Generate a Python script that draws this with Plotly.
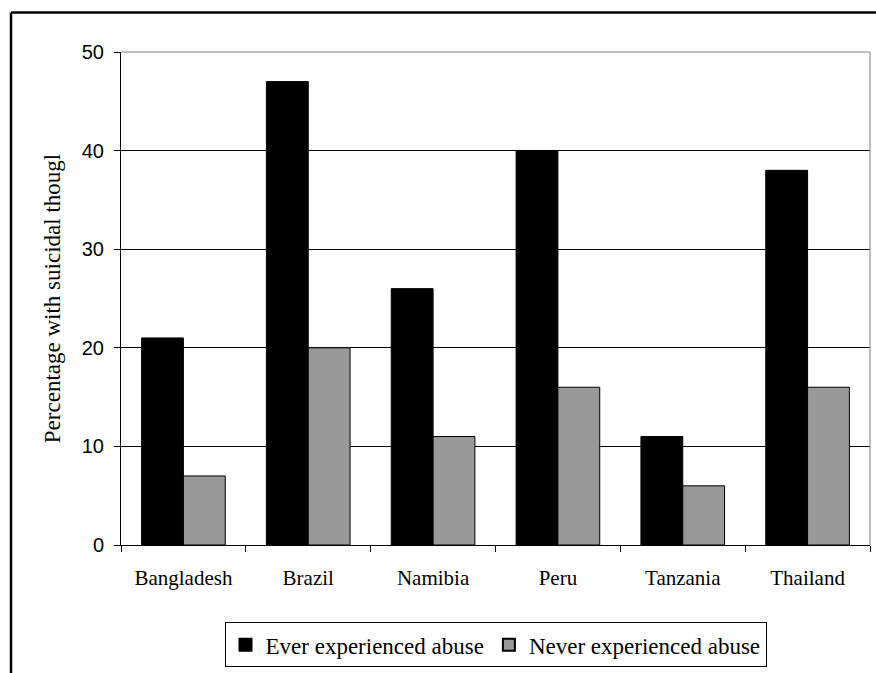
import plotly.graph_objects as go

countries = ["Bangladesh", "Brazil", "Namibia", "Peru", "Tanzania", "Thailand"]
ever_abuse = [21, 47, 26, 40, 11, 38]
never_abuse = [7, 20, 11, 16, 6, 16]
y_ticks = [0, 10, 20, 30, 40, 50]

fig = go.Figure()
fig.add_trace(go.Bar(x=countries, y=ever_abuse, name="Ever experienced abuse",
                     marker=dict(color="#000000", line=dict(color="#000000", width=1))))
fig.add_trace(go.Bar(x=countries, y=never_abuse, name="Never experienced abuse",
                     marker=dict(color="#999999", line=dict(color="#000000", width=1))))

W, H = 876, 673
L, R, T, B = 121, 6, 52, 123
pw, ph = W - L - R, H - T - B

def px_x(p):
    return (p - L) / pw

def px_y(p):
    return (H - B - p) / ph

SERIF = "Liberation Serif, Times New Roman, serif"
SANS = "Liberation Sans, Arial, sans-serif"

fig.update_layout(
    width=W, height=H,
    margin=dict(l=L, r=R, t=T, b=B),
    paper_bgcolor="white", plot_bgcolor="white",
    font=dict(family=SERIF, color="black"),
    barmode="group", bargap=0.33, bargroupgap=0,
    showlegend=True,
    legend=dict(orientation="h", x=0.5, xanchor="center", y=px_y(628), yanchor="top",
                font=dict(family=SERIF, size=23, color="black"),
                bordercolor="black", borderwidth=1, bgcolor="white",
                itemsizing="constant", traceorder="normal"),
    xaxis=dict(type="category", showline=True, linecolor="black", linewidth=1,
               ticks="outside", ticklen=6, tickcolor="black", tickson="boundaries",
               tickfont=dict(family=SERIF, size=21, color="black"),
               ticklabelstandoff=14, showgrid=False, zeroline=False),
    yaxis=dict(range=[0, 50], tickvals=y_ticks, showline=True, linecolor="black", linewidth=1,
               ticks="outside", ticklen=6, tickcolor="black",
               tickfont=dict(family=SANS, size=20, color="black"),
               ticklabelstandoff=6,
               showgrid=True, gridcolor="black", gridwidth=1, zeroline=False,
               title=dict(text="Percentage with suicidal thougl", standoff=14,
                          font=dict(family=SERIF, size=23, color="black"))),
    shapes=[
        # gray top and right plot border
        dict(type="line", xref="paper", yref="paper", x0=0, x1=1, y0=1, y1=1,
             line=dict(color="#808080", width=1)),
        dict(type="line", xref="paper", yref="paper", x0=1, x1=1, y0=0, y1=1,
             line=dict(color="#808080", width=1)),
        # outer chart border (top and left visible)
        dict(type="line", xref="paper", yref="paper", x0=px_x(11), x1=px_x(W + 20),
             y0=px_y(12), y1=px_y(12), line=dict(color="black", width=2.5)),
        dict(type="line", xref="paper", yref="paper", x0=px_x(11), x1=px_x(11),
             y0=px_y(12), y1=px_y(H + 20), line=dict(color="black", width=2.5)),
    ],
)

fig.write_html("out.html", config={"displayModeBar": False},
               post_script="document.body.style.margin='0';document.body.style.overflow='hidden';")
